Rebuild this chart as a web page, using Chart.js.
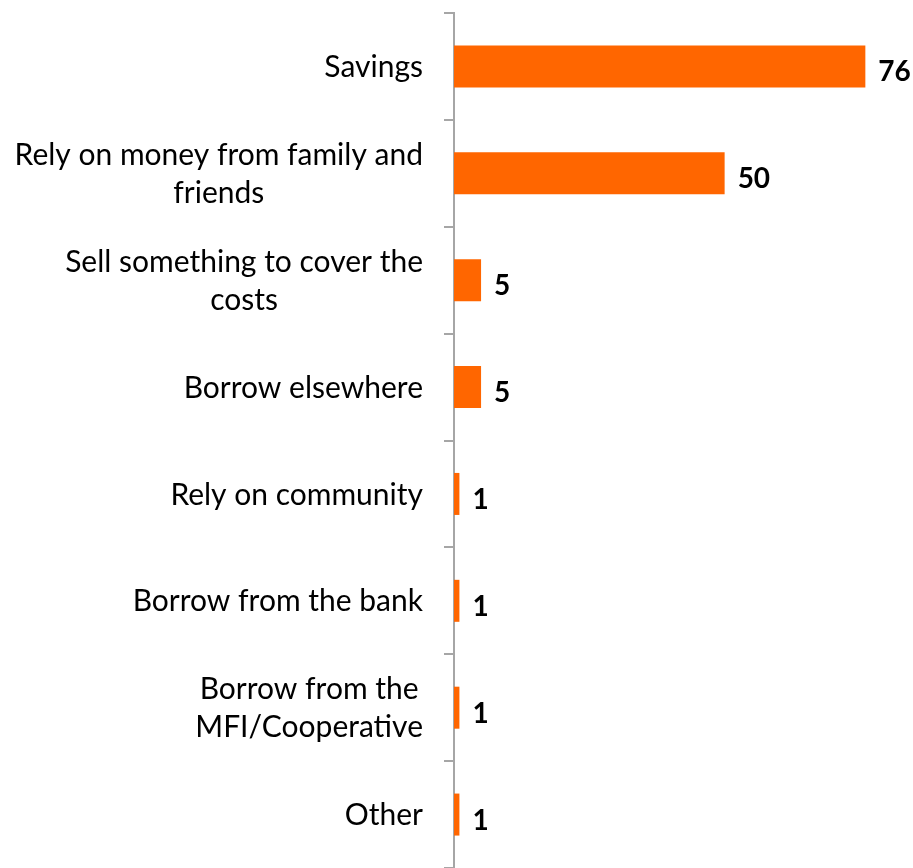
<!DOCTYPE html>
<html>
<head>
<meta charset="utf-8">
<script src="https://cdn.jsdelivr.net/npm/chart.js@4.4.0/dist/chart.umd.min.js"></script>
<style>
  html, body { margin: 0; padding: 0; background: #fff; }
  #wrap { width: 913px; height: 868px; }
</style>
</head>
<body>
<div id="wrap"><canvas id="myChart"></canvas></div>
<script>
// coping strategies, share of respondents (%)
var labels = [
    'Savings',
    ['Rely on money from family and', 'friends'],
    ['Sell something to cover the', 'costs'],
    'Borrow elsewhere',
    'Rely on community',
    'Borrow from the bank',
    ['Borrow from the', 'MFI/Cooperative'],
    'Other'
];
var values = [76, 50, 5, 5, 1, 1, 1, 1];

var FONT = 'Lato, "Open Sans", sans-serif';
var LABEL_RIGHT = 423;   // right edge of the category text
var LINE_H = 38;

// category names: block right-aligned, lines centred inside the block
var categoryLabels = {
    id: 'categoryLabels',
    afterDraw: function (chart) {
        var ctx = chart.ctx;
        var yScale = chart.scales.y;
        ctx.save();
        ctx.font = '30px ' + FONT;
        ctx.fillStyle = '#000';
        ctx.textAlign = 'center';
        ctx.textBaseline = 'middle';
        labels.forEach(function (lab, i) {
            var lines = Array.isArray(lab) ? lab : [lab];
            var w = 0;
            lines.forEach(function (l) { w = Math.max(w, ctx.measureText(l).width); });
            var cx = LABEL_RIGHT - w / 2;
            var cy = yScale.getPixelForValue(i) + 1;
            var y0 = cy - (lines.length - 1) * LINE_H / 2;
            lines.forEach(function (l, j) {
                ctx.fillText(l, cx, y0 + j * LINE_H);
            });
        });
        ctx.restore();
    }
};

// numbers to the right of each bar
var valueLabels = {
    id: 'valueLabels',
    afterDatasetsDraw: function (chart) {
        var ctx = chart.ctx;
        var meta = chart.getDatasetMeta(0);
        ctx.save();
        ctx.font = 'bold 28px ' + FONT;
        ctx.fillStyle = '#000';
        ctx.textAlign = 'left';
        ctx.textBaseline = 'middle';
        meta.data.forEach(function (bar, i) {
            ctx.fillText(values[i], bar.x + 13, bar.y + 6);
        });
        ctx.restore();
    }
};

function renderChart() {
    var ctx = document.getElementById('myChart').getContext('2d');
    new Chart(ctx, {
        type: 'bar',
        data: {
            labels: labels,
            datasets: [{
                data: values,
                backgroundColor: '#FF6600',
                borderWidth: 0,
                categoryPercentage: 1,
                barPercentage: 0.393
            }]
        },
        options: {
            indexAxis: 'y',
            responsive: true,
            maintainAspectRatio: false,
            animation: false,
            layout: { padding: { top: 13, right: 26, bottom: 0, left: 0 } },
            plugins: {
                legend: { display: false },
                tooltip: { enabled: false }
            },
            scales: {
                x: {
                    display: false,
                    min: 0,
                    max: 80
                },
                y: {
                    afterFit: function (scale) {
                        scale.width = 454;
                        scale.paddingTop = 0;
                        scale.paddingBottom = 0;
                    },
                    border: { display: true, color: '#A6A6A6', width: 2 },
                    grid: {
                        drawOnChartArea: false,
                        color: '#A6A6A6',
                        lineWidth: 2,
                        tickLength: 10
                    },
                    ticks: { display: false }
                }
            }
        },
        plugins: [categoryLabels, valueLabels]
    });
}

renderChart();
</script>
</body>
</html>
